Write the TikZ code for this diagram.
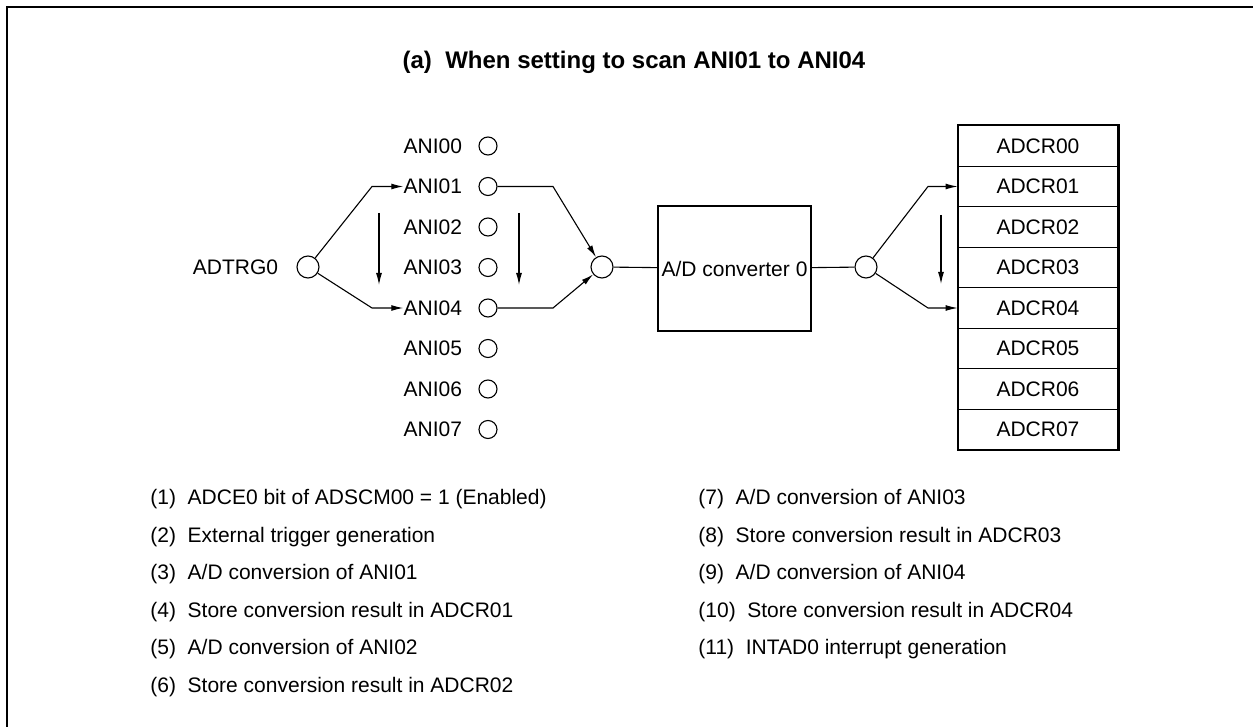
\documentclass[tikz,border=0pt]{standalone}
\usepackage{fontspec}
\setmainfont{Liberation Sans}
\usepackage{tikz}
\usetikzlibrary{arrows.meta, positioning}

\begin{document}
\begin{tikzpicture}[
  x=0.5pt, y=-0.5pt,
  frame/.style={line width=1.25pt},
  wire/.style={line width=0.55pt},
  arr/.style={-{Latex[length=6pt, width=3pt]}, line width=0.55pt},
  pinc/.style={circle, draw, line width=0.55pt, minimum size=9pt, inner sep=0pt},
  junc/.style={circle, draw, line width=0.55pt, minimum size=11pt, inner sep=0pt},
  lbl/.style={font=\fontsize{10.5}{12}\selectfont, inner sep=0pt},
  conv/.style={draw, line width=1.1pt, minimum width=76.5pt, minimum height=62.5pt,
    inner sep=0pt, font=\fontsize{10.5}{12}\selectfont},
  reg/.style={draw, line width=0.4pt, minimum width=80pt, minimum height=20.25pt,
    inner sep=0pt, font=\fontsize{10.5}{12}\selectfont},
  hdr/.style={font=\fontsize{12}{14}\selectfont\bfseries},
  item/.style={anchor=west, font=\fontsize{10.5}{12}\selectfont, inner sep=0pt},
]
  \useasboundingbox (0,0) rectangle (1253,727);
  \draw[frame] (7,727) -- (7,7) -- (1253,7);

  \node[hdr] (title) at (634,62) {(a)\ \ When setting to scan ANI01 to ANI04};

  %% Analog inputs
  \foreach \i in {0,...,7} {
    \node[pinc] (c\i) at (488,146+40.5*\i) {};
    \node[lbl, left=8pt of c\i] (a\i) {ANI0\i};
  }

  %% Trigger
  \node[junc] (trg) at (308,267) {};
  \node[lbl, left=9pt of trg] (trglbl) {ADTRG0};

  \coordinate (t1) at (372,186.5);
  \coordinate (t4) at (372,308);
  \draw[arr] (trg) -- (t1) -- (a1.west);
  \draw[arr] (trg) -- (t4) -- (a4.west);

  \coordinate (s1a) at (379,213);
  \coordinate (s1b) at (379,285);
  \draw[arr] (s1a) -- (s1b);
  \coordinate (s2a) at (519,213);
  \coordinate (s2b) at (519,285);
  \draw[arr] (s2a) -- (s2b);

  %% Selector and converter
  \node[junc] (mux) at (602,267) {};
  \coordinate (m1) at (553,186.5);
  \coordinate (m4) at (553,308);
  \draw[arr] (c1) -- (m1) -- (mux);
  \draw[arr] (c4) -- (m4) -- (mux);

  \node[conv] (adc) at (734.5,268.5) {A/D converter 0};
  \draw[wire] (mux) -- (adc);

  \node[junc] (dmx) at (866,267) {};
  \draw[wire] (adc) -- (dmx);

  %% Result registers
  \foreach \i in {0,...,7} {
    \node[reg] (r\i) at (1038,146+40.5*\i) {ADCR0\i};
  }
  \draw[line width=1.1pt] (r0.north west) rectangle (r7.south east);

  \coordinate (d1) at (928,186.5);
  \coordinate (d4) at (928,308);
  \draw[arr] (dmx) -- (d1) -- (r1.west);
  \draw[arr] (dmx) -- (d4) -- (r4.west);

  \coordinate (s3a) at (941,215);
  \coordinate (s3b) at (941,284);
  \draw[arr] (s3a) -- (s3b);

  %% Legend
  \foreach \k/\t [count=\j from 0] in {
      1/{ADCE0 bit of ADSCM00 = 1 (Enabled)},
      2/{External trigger generation},
      3/{A/D conversion of ANI01},
      4/{Store conversion result in ADCR01},
      5/{A/D conversion of ANI02},
      6/{Store conversion result in ADCR02}} {
    \node[item] (n\k) at (150,499+37.6*\j) {(\k)\ \ \t};
  }
  \foreach \k/\t [count=\j from 0] in {
      7/{A/D conversion of ANI03},
      8/{Store conversion result in ADCR03},
      9/{A/D conversion of ANI04},
      10/{Store conversion result in ADCR04},
      11/{INTAD0 interrupt generation}} {
    \node[item] (n\k) at (698,499+37.6*\j) {(\k)\ \ \t};
  }
\end{tikzpicture}
\end{document}
